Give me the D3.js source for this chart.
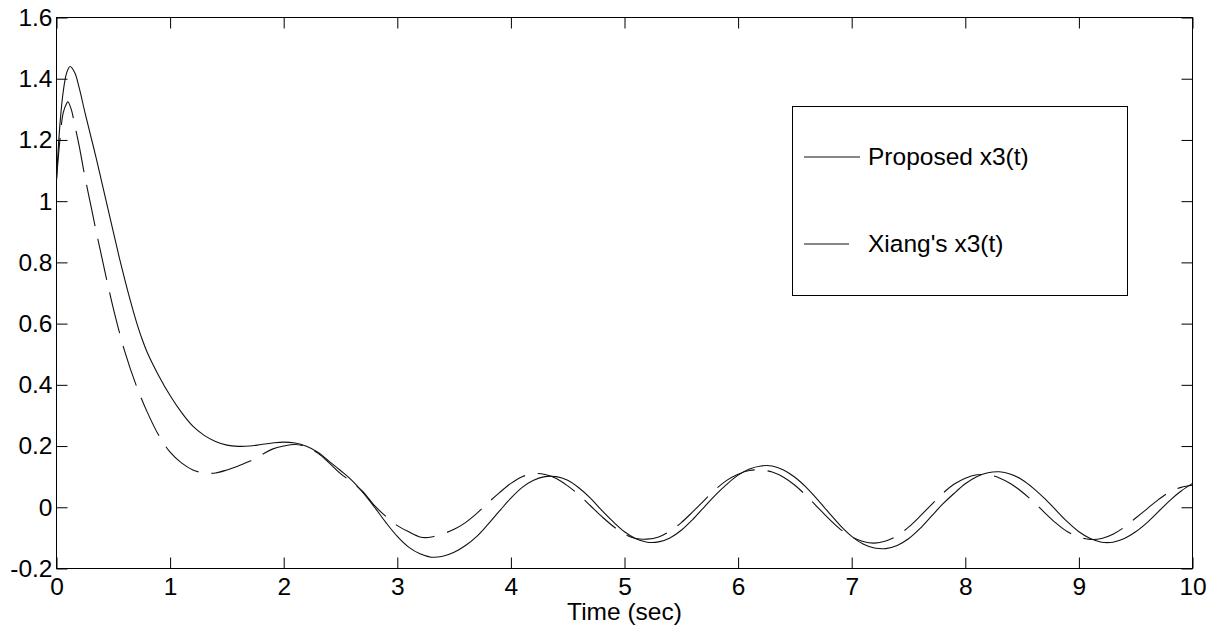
<!DOCTYPE html>
<html><head><meta charset="utf-8">
<script src="https://cdn.jsdelivr.net/npm/d3@7"></script>
<style>
html,body{margin:0;padding:0;background:#fff;}
svg text{font-family:"Liberation Sans",Arial,sans-serif;fill:#000;}
</style></head>
<body>
<svg id="chart" width="1222" height="632"></svg>
<script>
// ---- data ----
const proposedT = [0,0.03,0.06,0.09,0.12,0.16,0.2,0.25,0.3,0.35,0.4,0.45,0.5,0.55,0.6,0.65,0.7,0.75,0.8,0.9,1.0,1.1,1.2,1.3,1.4,1.5,1.6,1.7,1.8,1.9,2.0,2.1,2.2,2.3,2.4,2.5,2.6,2.7,2.8,2.9,3.0,3.1,3.2,3.3,3.4,3.5,3.6,3.7,3.8,3.9,4.0,4.1,4.2,4.3,4.4,4.5,4.6,4.7,4.8,4.9,5.0,5.1,5.2,5.3,5.4,5.5,5.6,5.7,5.8,5.9,6.0,6.1,6.2,6.3,6.4,6.5,6.6,6.7,6.8,6.9,7.0,7.1,7.2,7.3,7.4,7.5,7.6,7.7,7.8,7.9,8.0,8.1,8.2,8.3,8.4,8.5,8.6,8.7,8.8,8.9,9.0,9.1,9.2,9.3,9.4,9.5,9.6,9.7,9.8,9.9,10.0];
const proposedV = [1.07,1.25,1.36,1.42,1.44,1.42,1.37,1.29,1.215,1.14,1.06,0.98,0.90,0.82,0.745,0.675,0.61,0.553,0.505,0.43,0.365,0.31,0.265,0.235,0.215,0.203,0.199,0.200,0.205,0.210,0.213,0.210,0.199,0.180,0.150,0.120,0.088,0.047,0.000,-0.050,-0.095,-0.130,-0.152,-0.163,-0.160,-0.147,-0.125,-0.095,-0.055,-0.012,0.030,0.065,0.088,0.100,0.100,0.088,0.063,0.030,-0.010,-0.047,-0.080,-0.103,-0.114,-0.113,-0.100,-0.075,-0.040,0.000,0.040,0.075,0.105,0.125,0.135,0.135,0.122,0.098,0.065,0.025,-0.018,-0.060,-0.095,-0.120,-0.133,-0.135,-0.125,-0.103,-0.070,-0.030,0.010,0.045,0.077,0.100,0.113,0.116,0.108,0.090,0.062,0.028,-0.010,-0.048,-0.080,-0.102,-0.114,-0.114,-0.102,-0.080,-0.050,-0.014,0.022,0.053,0.078];
const xiangT = [0,0.03,0.06,0.09,0.1,0.13,0.16,0.2,0.25,0.3,0.35,0.4,0.45,0.5,0.6,0.7,0.8,0.9,1.0,1.1,1.2,1.3,1.4,1.5,1.6,1.7,1.8,1.9,2.0,2.1,2.2,2.3,2.4,2.5,2.6,2.7,2.8,2.9,3.0,3.1,3.2,3.25,3.3,3.4,3.5,3.6,3.7,3.8,3.9,4.0,4.1,4.2,4.3,4.4,4.5,4.6,4.7,4.8,4.9,5.0,5.1,5.2,5.3,5.4,5.5,5.6,5.7,5.8,5.9,6.0,6.1,6.2,6.3,6.4,6.5,6.6,6.7,6.8,6.9,7.0,7.1,7.2,7.3,7.4,7.5,7.6,7.7,7.8,7.9,8.0,8.1,8.2,8.3,8.4,8.5,8.6,8.7,8.8,8.9,9.0,9.1,9.2,9.3,9.4,9.5,9.6,9.7,9.8,9.9,10.0];
const xiangV = [1.07,1.20,1.29,1.32,1.325,1.30,1.25,1.18,1.08,0.99,0.90,0.815,0.73,0.65,0.51,0.40,0.31,0.235,0.18,0.145,0.122,0.112,0.112,0.122,0.135,0.150,0.170,0.190,0.200,0.205,0.197,0.177,0.145,0.110,0.082,0.050,0.005,-0.030,-0.060,-0.080,-0.097,-0.099,-0.097,-0.087,-0.072,-0.050,-0.020,0.015,0.048,0.078,0.100,0.110,0.107,0.094,0.070,0.040,0.005,-0.030,-0.062,-0.088,-0.102,-0.104,-0.097,-0.078,-0.050,-0.015,0.022,0.058,0.088,0.108,0.120,0.122,0.115,0.098,0.072,0.038,0.000,-0.038,-0.072,-0.097,-0.112,-0.117,-0.110,-0.093,-0.065,-0.030,0.008,0.045,0.075,0.095,0.106,0.106,0.096,0.077,0.050,0.018,-0.018,-0.052,-0.080,-0.097,-0.105,-0.102,-0.088,-0.065,-0.035,-0.005,0.025,0.050,0.065,0.072];
const xTicks = [0,1,2,3,4,5,6,7,8,9,10];
const xTickLabels = ["0","1","2","3","4","5","6","7","8","9","10"];
const yTicks = [-0.2,0,0.2,0.4,0.6,0.8,1,1.2,1.4,1.6];
const yTickLabels = ["-0.2","0","0.2","0.4","0.6","0.8","1","1.2","1.4","1.6"];
const legendLabels = ["Proposed x3(t)","Xiang's x3(t)"];
const xLabel = "Time (sec)";

// ---- layout ----
const L = 56.5, R = 1192.5, T = 17.5, B = 568.5;
const svg = d3.select("#chart");
const x = d3.scaleLinear().domain([0,10]).range([L,R]);
const y = d3.scaleLinear().domain([-0.2,1.6]).range([B,T]);
const fs = 24.5;

// axes
const gB = svg.append("g").attr("transform",`translate(0,${B})`)
  .call(d3.axisBottom(x).tickValues(xTicks).tickFormat((d,i)=>xTickLabels[i]).tickSizeInner(-11).tickSizeOuter(0).tickPadding(9));
const gT = svg.append("g").attr("transform",`translate(0,${T})`)
  .call(d3.axisTop(x).tickValues(xTicks).tickFormat("").tickSizeInner(-11).tickSizeOuter(0));
const gL = svg.append("g").attr("transform",`translate(${L},0)`)
  .call(d3.axisLeft(y).tickValues(yTicks).tickFormat((d,i)=>yTickLabels[i]).tickSizeInner(-11).tickSizeOuter(0).tickPadding(4));
const gR = svg.append("g").attr("transform",`translate(${R},0)`)
  .call(d3.axisRight(y).tickValues(yTicks).tickFormat("").tickSizeInner(-11).tickSizeOuter(0));
[gB,gT,gL,gR].forEach(g=>{
  g.select(".domain").remove();
  g.selectAll(".tick line").attr("stroke","#000").attr("stroke-width",1);
  g.selectAll("text").attr("font-size",fs).attr("font-family",'"Liberation Sans",Arial,sans-serif').attr("fill","#000");
});

// frame
svg.append("rect").attr("x",L).attr("y",T).attr("width",R-L).attr("height",B-T)
  .attr("fill","none").attr("stroke","#000").attr("stroke-width",1);

// lines
const line = d3.line().x(d=>x(d[0])).y(d=>y(d[1])).curve(d3.curveCatmullRom.alpha(0.5));
const pData = proposedT.map((t,i)=>[t,proposedV[i]]);
const xData = xiangT.map((t,i)=>[t,xiangV[i]]);
svg.append("path").datum(pData).attr("d",line).attr("fill","none").attr("stroke","#111").attr("stroke-width",1.1);
svg.append("path").datum(xData).attr("d",line).attr("fill","none").attr("stroke","#111").attr("stroke-width",1.1)
  .attr("stroke-dasharray","42,13");

// x label
svg.append("text").attr("x",(L+R)/2).attr("y",620).attr("text-anchor","middle").attr("font-size",fs).text(xLabel);

// legend
const lg = svg.append("g");
lg.append("rect").attr("x",792.5).attr("y",106.5).attr("width",335).attr("height",189)
  .attr("fill","#fff").attr("stroke","#000").attr("stroke-width",1);
const legY = [157, 244];
const legLen = [56, 45];
legendLabels.forEach((lab,i)=>{
  lg.append("line").attr("x1",804).attr("x2",804+legLen[i]).attr("y1",legY[i]).attr("y2",legY[i])
    .attr("stroke","#111").attr("stroke-width",1.1).attr("stroke-dasharray", i===1 ? "45,13" : null);
  lg.append("text").attr("x",868).attr("y",legY[i]+8).attr("font-size",fs).text(lab);
});
</script>
</body></html>
